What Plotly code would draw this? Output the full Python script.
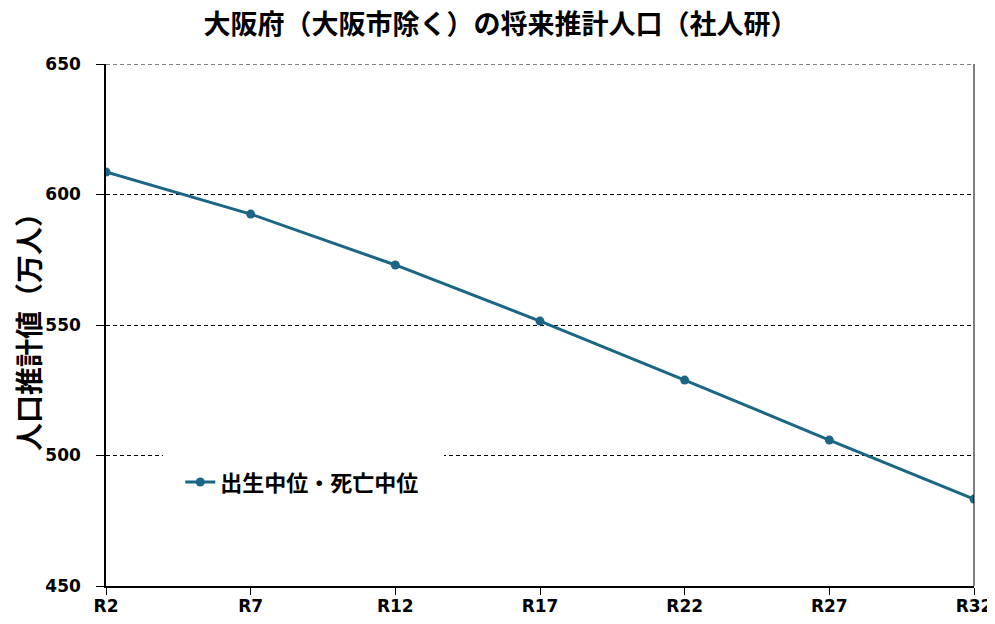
import plotly.graph_objects as go

years = ['R2', 'R7', 'R12', 'R17', 'R22', 'R27', 'R32']
population = [608.6, 592.5, 573.0, 551.5, 528.9, 505.9, 483.3]
series_name = '出生中位・死亡中位'

LINE_COLOR = '#1b6585'
JP_FONT = 'Noto Sans CJK JP'
NUM_FONT = 'DejaVu Sans'

fig = go.Figure()
fig.add_trace(go.Scatter(
    x=years, y=population, name=series_name,
    mode='lines+markers',
    line=dict(color=LINE_COLOR, width=3),
    marker=dict(color=LINE_COLOR, size=9),
))

# page body adds an 8px offset, so margins are shifted to compensate
fig.update_layout(
    width=995, height=624,
    margin=dict(l=98, r=29, t=56, b=46, autoexpand=False),
    paper_bgcolor='white', plot_bgcolor='white',
    title=dict(
        text='大阪府（大阪市除く）の将来推計人口（社人研）',
        x=0.495, xanchor='center', y=0.973, yanchor='middle',
        font=dict(family=JP_FONT, size=27, color='black', weight='bold'),
    ),
    showlegend=True,
    legend=dict(
        x=0.066, y=0.274, xanchor='left', yanchor='top',
        bgcolor='white', borderwidth=0, indentation=17,
        # blank title pads the white box so it hides the 500 gridline
        title=dict(text='&nbsp;' * 76,
                   font=dict(family='Open Sans', size=14)),
        font=dict(family=JP_FONT, size=22, color='black', weight='bold'),
    ),
    # top dashed gridline and thin right frame line
    shapes=[
        dict(type='line', xref='x domain', yref='y', x0=0, x1=1, y0=650, y1=650,
             line=dict(color='black', width=1, dash='4px,3px')),
        dict(type='line', xref='x domain', yref='y domain', x0=1, x1=1, y0=0, y1=1,
             line=dict(color='black', width=1)),
    ],
)

fig.update_xaxes(
    type='category', range=[0, 6], automargin=False,
    showline=True, linecolor='black', linewidth=1.5,
    ticks='outside', ticklen=7, tickcolor='black', tickwidth=1,
    ticklabelstandoff=-3,
    showgrid=False, zeroline=False,
    tickfont=dict(family=NUM_FONT, size=17, color='black', weight='bold'),
)
fig.update_yaxes(
    range=[450, 650], dtick=50, automargin=False,
    showline=True, linecolor='black', linewidth=1.5,
    ticks='outside', ticklen=8, tickcolor='black', tickwidth=1,
    ticklabelstandoff=12,
    showgrid=True, gridcolor='black', gridwidth=1, griddash='4px,3px',
    zeroline=False,
    tickfont=dict(family=NUM_FONT, size=17, color='black', weight='bold'),
    title=dict(text='人口推計値（万人）', standoff=7,
               font=dict(family=JP_FONT, size=28, color='black', weight='bold')),
)

fig.write_html('out.html')
